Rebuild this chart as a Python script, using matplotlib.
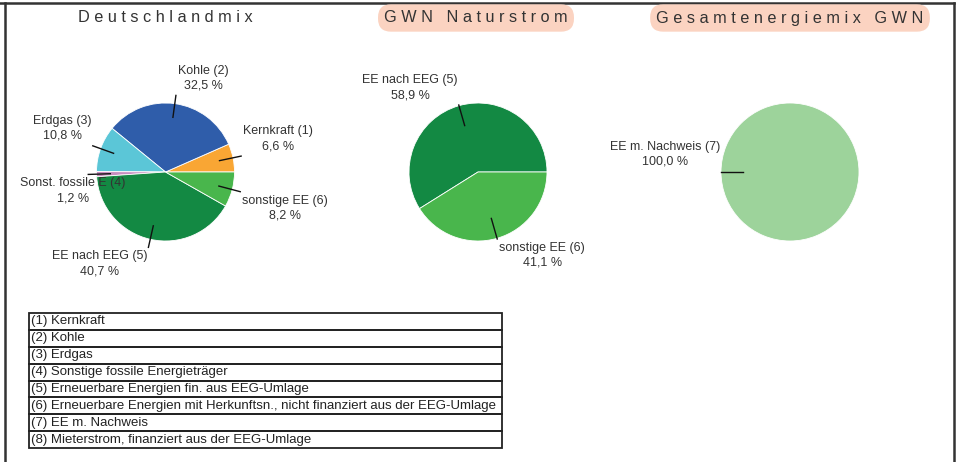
import numpy as np
import matplotlib.pyplot as plt
from matplotlib.patches import Rectangle

plt.rcParams['font.family'] = ['Liberation Sans', 'DejaVu Sans']

# data
de_labels = ['Kernkraft (1)', 'Kohle (2)', 'Erdgas (3)', 'Sonst. fossile E (4)',
             'EE nach EEG (5)', 'sonstige EE (6)']
de_values = [6.6, 32.5, 10.8, 1.2, 40.7, 8.2]
de_colors = ['#F9A634', '#2F5DAA', '#5BC6D7', '#C78DBF', '#138943', '#49B64C']

gwn_labels = ['EE nach EEG (5)', 'sonstige EE (6)']
gwn_values = [58.9, 41.1]
gwn_colors = ['#138943', '#49B64C']

ges_labels = ['EE m. Nachweis (7)']
ges_values = [100.0]
ges_colors = ['#9DD39B']

titles = ['Deutschlandmix', 'GWN Naturstrom', 'Gesamtenergiemix GWN']
title_boxed = [False, True, True]

legend_rows = [
    '(1) Kernkraft',
    '(2) Kohle',
    '(3) Erdgas',
    '(4) Sonstige fossile Energieträger',
    '(5) Erneuerbare Energien fin. aus EEG-Umlage',
    '(6) Erneuerbare Energien mit Herkunftsn., nicht finanziert aus der EEG-Umlage',
    '(7) EE m. Nachweis',
    '(8) Mieterstrom, finanziert aus der EEG-Umlage',
]

W, H = 959, 462
TXT = '#333333'


def fmt(v):
    return f'{v:.1f}'.replace('.', ',') + ' %'


def spaced(s):
    return '   '.join(' '.join(w) for w in s.split(' '))


def draw_pie(ax, cx, cy, values, labels, colors, r0, r1, shifts=None):
    wedges, _ = ax.pie(values, colors=colors, startangle=0, counterclock=True,
                       center=(cx, cy), radius=69, frame=True,
                       wedgeprops=dict(linewidth=0.6, edgecolor='white'))
    for i, w in enumerate(wedges):
        a = np.deg2rad((w.theta1 + w.theta2) / 2)
        c, s = np.cos(a), np.sin(a)
        x0, y0 = cx + 69 * r0 * c, cy + 69 * r0 * s
        x1, y1 = cx + 69 * r1 * c, cy + 69 * r1 * s
        ax.plot([x0, x1], [y0, y1], color='#111111', lw=1.0)
        ha = 'left' if c > 0.01 else 'right'
        va = 'bottom' if s > -0.01 else 'top'
        dx = 2 if ha == 'left' else -1
        dy = 4 if va == 'bottom' else -3
        if shifts and i in shifts:
            dx += shifts[i]
        ax.text(x1 + dx, y1 + dy, labels[i] + '\n' + fmt(values[i]),
                ha=ha, va=va, multialignment='center', fontsize=9,
                color=TXT, linespacing=1.3)


fig = plt.figure(figsize=(W / 100, H / 100), dpi=100)
ax = fig.add_axes([0, 0, 1, 1])

draw_pie(ax, 165.5, H - 172, de_values, de_labels, de_colors, 0.8, 1.12,
         shifts={3: 38})
draw_pie(ax, 478, H - 172, gwn_values, gwn_labels, gwn_colors, 0.7, 1.01)
draw_pie(ax, 790, H - 172, ges_values, ges_labels, ges_colors, 0.68, 1.0)

# titles
for x, t, boxed in zip([165, 476, 790], titles, title_boxed):
    kw = {}
    if boxed:
        kw['bbox'] = dict(boxstyle='round,pad=0.38,rounding_size=0.8',
                          fc='#FBD3C1', ec='none')
    ax.text(x, H - 18, spaced(t), ha='center', va='center', fontsize=11.7,
            color=TXT, **kw)

# legend table
row_h = 135 / len(legend_rows)
for i, row in enumerate(legend_rows):
    top = H - 313 - i * row_h
    ax.add_patch(Rectangle((29, top - row_h), 473, row_h, fill=False,
                           ec='#222222', lw=1.3))
    ax.text(31, top - row_h / 2, row, ha='left', va='center', fontsize=9.5,
            color='#222222')

# frame
ax.plot([0, 954], [H - 3, H - 3], color='#333333', lw=1.8)
ax.plot([5, 5], [0, H - 3], color='#333333', lw=1.8)
ax.plot([954, 954], [0, H - 3], color='#333333', lw=1.8)

ax.set_xlim(0, W)
ax.set_ylim(0, H)
ax.set_aspect('auto')
ax.axis('off')
fig.savefig('out.png', dpi=100)
